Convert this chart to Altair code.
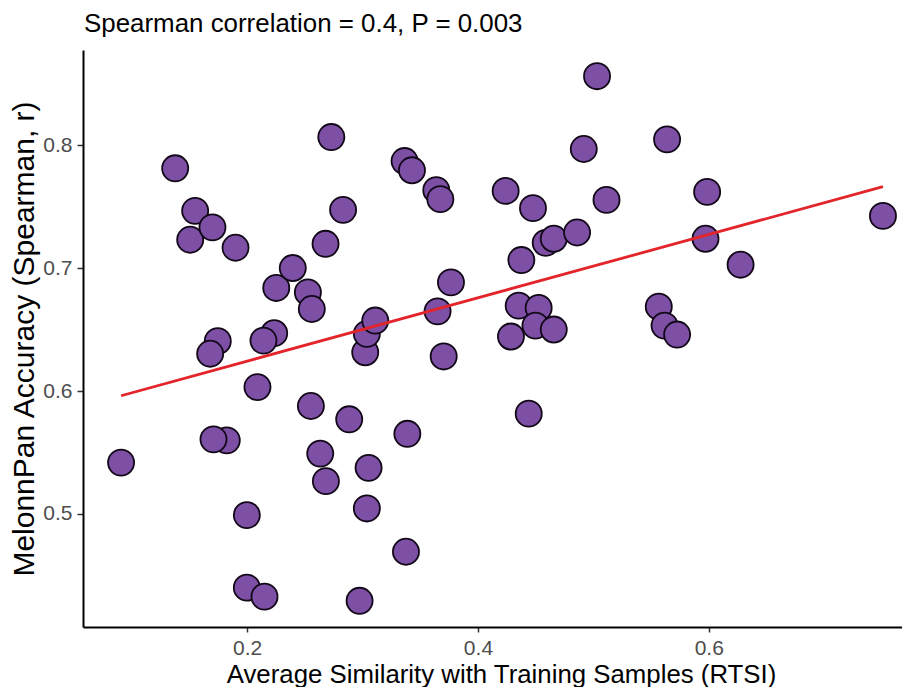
import altair as alt
import pandas as pd

# Average Similarity with Training Samples (RTSI)
rtsi = [
    0.0907, 0.1376, 0.1549, 0.1506, 0.1699, 0.1899, 0.1745, 0.1679, 0.1823, 0.1708,
    0.2089, 0.1997, 0.1997, 0.2150, 0.2234, 0.2141, 0.2252, 0.2395, 0.2526, 0.2560,
    0.2552, 0.2633, 0.2682, 0.2679, 0.2729, 0.2831, 0.2884, 0.2974, 0.3023, 0.3037,
    0.3110, 0.3052, 0.3037, 0.3376, 0.3388, 0.3364, 0.3428, 0.3639, 0.3674, 0.3766,
    0.3650, 0.3703, 0.4240, 0.4477, 0.4376, 0.4286, 0.4353, 0.4526, 0.4498, 0.4657,
    0.4440, 0.4587, 0.4657, 0.4859, 0.4917, 0.5032, 0.5114, 0.5639, 0.5986, 0.5972,
    0.5567, 0.5617, 0.5726, 0.6276, 0.7510,
]
# MelonnPan Accuracy (Spearman, r)
accuracy = [
    0.5418, 0.7811, 0.7465, 0.7230, 0.7331, 0.7165, 0.6405, 0.6303, 0.5599, 0.5607,
    0.6032, 0.4991, 0.4401, 0.4328, 0.6470, 0.6410, 0.6838, 0.7000, 0.6802, 0.6667,
    0.5878, 0.5491, 0.5267, 0.7197, 0.8065, 0.7473, 0.5770, 0.4294, 0.6315, 0.6465,
    0.6573, 0.5375, 0.5045, 0.4693, 0.5652, 0.7870, 0.7795, 0.7633, 0.7560, 0.6883,
    0.6648, 0.6281, 0.7627, 0.7487, 0.7065, 0.6443, 0.6694, 0.6676, 0.6532, 0.6500,
    0.5816, 0.7205, 0.7238, 0.7289, 0.7968, 0.8560, 0.7554, 0.8046, 0.7619, 0.7238,
    0.6686, 0.6532, 0.6459, 0.7027, 0.7424,
]

x_ticks = [0.2, 0.4, 0.6]
y_ticks = [0.5, 0.6, 0.7, 0.8]

title_text = "Spearman correlation = 0.4, P = 0.003"

df = pd.DataFrame({"rtsi": rtsi, "acc": accuracy})
title_df = pd.DataFrame({"label": [title_text]})

FONT = "Liberation Sans"

xscale = alt.Scale(domain=[0.0577, 0.7675], nice=False, zero=False)
yscale = alt.Scale(domain=[0.4081, 0.8773], nice=False, zero=False)

xaxis = alt.Axis(
    title="Average Similarity with Training Samples (RTSI)",
    values=x_ticks, format=".1f", grid=False,
    titleFontSize=25.8, titleFont=FONT, titleFontWeight="normal", titleColor="#000000",
    titleX=418, titleY=55, titleBaseline="alphabetic", titleAlign="center",
    labelFontSize=21, labelFont=FONT, labelColor="#4d4d4d", labelPadding=5,
    tickSize=5, tickColor="#333333", tickWidth=1.5,
    domainColor="#000000", domainWidth=2,
)
yaxis = alt.Axis(
    title="MelonnPan Accuracy (Spearman, r)",
    values=y_ticks, format=".1f", grid=False,
    titleFontSize=30, titleFont=FONT, titleFontWeight="normal", titleColor="#000000",
    titleX=-50, titleBaseline="alphabetic",
    labelFontSize=21, labelFont=FONT, labelColor="#4d4d4d", labelPadding=5,
    tickSize=6, tickColor="#333333", tickWidth=1.5,
    domainColor="#000000", domainWidth=2,
)

base = alt.Chart(df)

points = base.mark_circle(
    size=680, fill="#7d50a6", stroke="#120818", strokeWidth=1.8, opacity=1
).encode(
    x=alt.X("rtsi:Q", scale=xscale, axis=xaxis),
    y=alt.Y("acc:Q", scale=yscale, axis=yaxis),
)

line = base.transform_regression("rtsi", "acc").mark_line(
    color="#e3242b", strokeWidth=2.8
).encode(
    x=alt.X("rtsi:Q", scale=xscale),
    y=alt.Y("acc:Q", scale=yscale),
)

title = alt.Chart(title_df).mark_text(
    align="left", baseline="alphabetic", font=FONT, fontSize=25.9, color="#000000"
).encode(
    text="label:N",
    x=alt.value(1),
    y=alt.value(-18),
)

chart = alt.layer(points, line, title).properties(
    width=819,
    height=577,
    autosize=alt.AutoSizeParams(type="none"),
    padding={"left": 75, "top": 42, "right": 0, "bottom": 60},
).configure(background="white").configure_view(stroke=None)

chart.save("out.html", embed_options={"renderer": "svg", "actions": False})
